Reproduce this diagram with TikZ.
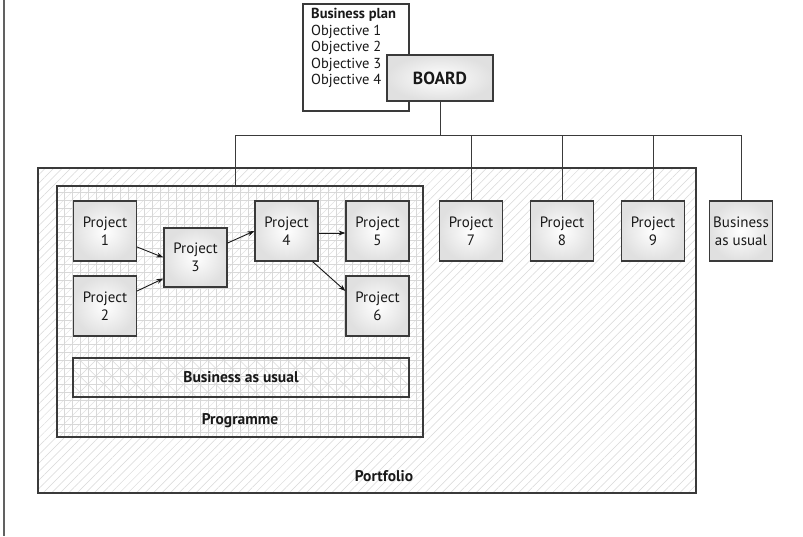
\documentclass[tikz,border=0pt]{standalone}
\usepackage{fontspec}
\setmainfont{PT Sans}
\usetikzlibrary{arrows.meta,patterns.meta}
\definecolor{edge}{HTML}{3A3A3A}
\definecolor{hatch}{HTML}{D8D8D8}
\tikzset{
  box/.style={draw=edge, line width=1.2pt, inner color=white, outer color=gray!24,
    minimum width=63pt, minimum height=60pt, inner sep=0pt, align=center,
    font=\fontsize{15}{18}\selectfont, text=black!90},
  link/.style={draw=edge, line width=1pt},
  arr/.style={draw=black!90, line width=0.9pt, -{Stealth[length=7pt,width=5pt]}},
  lbl/.style={font=\fontsize{15.5}{18}\selectfont\bfseries, text=black!90, inner sep=0pt},
}
\begin{document}
\begin{tikzpicture}[x=1pt,y=-1pt]
\useasboundingbox (0,0) rectangle (803,536);
% left edge line
\coordinate (lt) at (4,0);
\coordinate (lb) at (4,536);
\draw[edge!80, line width=1.2pt] (lt) -- (lb);

% portfolio
\node[draw=edge, line width=1.2pt, minimum width=658pt, minimum height=325pt, inner sep=0pt,
  preaction={fill=white},
  pattern={Lines[angle=45,distance=6pt,line width=0.5pt]}, pattern color=hatch]
  (port) at (367,330.5) {};
% programme
\node[draw=edge, line width=1.2pt, minimum width=366pt, minimum height=251pt, inner sep=0pt,
  preaction={fill=white},
  preaction={pattern={Lines[angle=45,distance=5.66pt,line width=0.4pt]}, pattern color=hatch!80},
  pattern={Hatch[angle=0,distance=8pt,line width=0.5pt]}, pattern color=hatch]
  (prog) at (240,311.5) {};
% business as usual bar
\node[draw=edge, line width=1.2pt, minimum width=336pt, minimum height=39pt, inner sep=0pt,
  preaction={fill=white},
  preaction={pattern={Hatch[angle=0,distance=8pt,line width=0.5pt]}, pattern color=hatch},
  pattern={Hatch[angle=45,distance=11.3pt,line width=0.5pt]}, pattern color=hatch,
  lbl] (bau) at (241,377.5) {Business as usual};

\node[lbl] (proglbl) at (240,421) {Programme};
\node[lbl] (portlbl) at (384,476) {Portfolio};

% business plan
\node[draw=edge, line width=1.2pt, fill=white, minimum width=106pt, minimum height=107pt, inner sep=0pt]
  (plan) at (356,57.5) {};
\node[anchor=north west, inner sep=0pt, align=left, text=black!90,
  font=\fontsize{14.5}{16.5}\selectfont] (plantxt) at (311,8)
  {\textbf{Business plan}\\Objective 1\\Objective 2\\Objective 3\\Objective 4};
% board
\node[box, minimum width=106pt, minimum height=46pt, font=\fontsize{17.5}{20}\selectfont\bfseries]
  (board) at (440,78) {BOARD};

% projects
\node[box] (p1) at (105,231) {Project\\1};
\node[box] (p2) at (105,306) {Project\\2};
\node[box, minimum height=59pt] (p3) at (195.5,257.5) {Project\\3};
\node[box] (p4) at (286.5,231) {Project\\4};
\node[box] (p5) at (377.5,231) {Project\\5};
\node[box] (p6) at (377.5,306) {Project\\6};
\node[box] (p7) at (471,231) {Project\\7};
\node[box] (p8) at (562,231) {Project\\8};
\node[box] (p9) at (653,231) {Project\\9};
\node[box] (bau2) at (741,231) {Business\\as usual};

% tree
\coordinate (hub) at (440,135);
\coordinate (hl) at (235,135);
\coordinate (hr) at (741,135);
\draw[link] (board.south) -- (hub);
\draw[link] (hl) -- (hr);
\draw[link] (hl) -- (hl |- prog.north);
\draw[link] (p7.north |- hub) -- (p7.north);
\draw[link] (p8.north |- hub) -- (p8.north);
\draw[link] (p9.north |- hub) -- (p9.north);
\draw[link] (bau2.north |- hub) -- (bau2.north);

% arrows
\draw[arr] ([yshift=-16pt]p1.east) -- (p3.west);
\draw[arr] ([yshift=15pt]p2.east) -- ([yshift=-21pt]p3.west);
\draw[arr] ([yshift=14.5pt]p3.east) -- (p4.west);
\draw[arr] ([yshift=-2pt]p4.east) -- ([yshift=-2pt]p5.west);
\draw[arr] ([xshift=-6pt]p4.south east) -- ([yshift=15pt]p6.west);
\end{tikzpicture}
\end{document}
